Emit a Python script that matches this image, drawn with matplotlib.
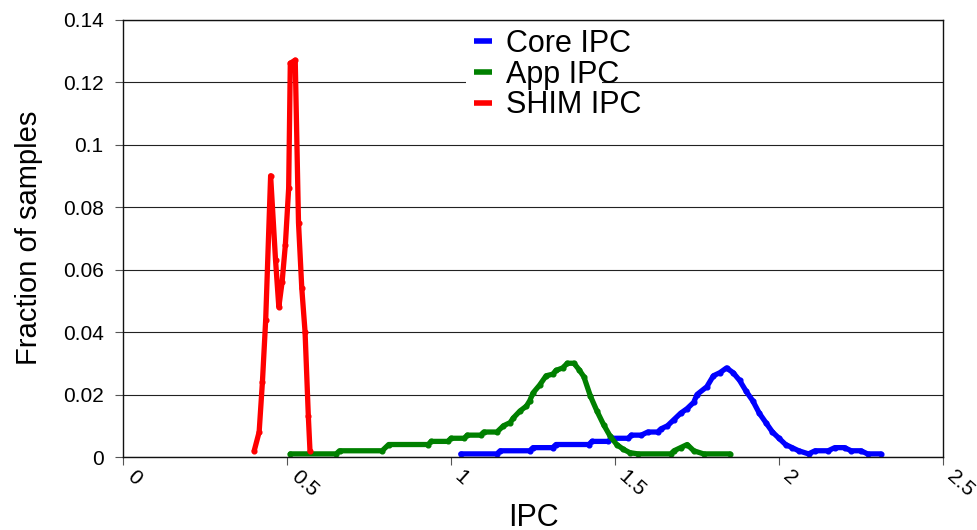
import matplotlib
matplotlib.use("Agg")
import matplotlib.pyplot as plt
from matplotlib.patches import Rectangle

plt.rcParams['font.family'] = ['Liberation Sans', 'DejaVu Sans']

# IPC distributions (fraction of samples per IPC bin)
core_ipc = [1.03, 1.14, 1.15, 1.24, 1.25, 1.31, 1.32, 1.42, 1.43, 1.48, 1.49, 1.54,
            1.55, 1.58, 1.60, 1.63, 1.64, 1.66, 1.68, 1.70, 1.72, 1.74, 1.75, 1.78,
            1.80, 1.82, 1.84, 1.86, 1.88, 1.90, 1.92, 1.94, 1.96, 1.98, 2.00, 2.02,
            2.04, 2.06, 2.09, 2.11, 2.15, 2.17, 2.20, 2.22, 2.25, 2.27, 2.31]
core_frac = [0.001, 0.001, 0.002, 0.002, 0.003, 0.003, 0.004, 0.004, 0.005, 0.005,
             0.006, 0.006, 0.007, 0.007, 0.008, 0.008, 0.009, 0.010, 0.012, 0.014,
             0.0155, 0.0175, 0.020, 0.0225, 0.026, 0.027, 0.0285, 0.027, 0.0245,
             0.021, 0.018, 0.014, 0.011, 0.008, 0.006, 0.004, 0.003, 0.002, 0.001,
             0.002, 0.002, 0.003, 0.003, 0.002, 0.002, 0.001, 0.001]

app_ipc = [0.51, 0.65, 0.66, 0.79, 0.81, 0.93, 0.94, 0.99, 1.00, 1.04, 1.05, 1.09,
           1.10, 1.14, 1.16, 1.18, 1.19, 1.21, 1.23, 1.24, 1.25, 1.27, 1.29, 1.31,
           1.32, 1.34, 1.355, 1.375, 1.39, 1.405, 1.425, 1.445, 1.465, 1.485, 1.505,
           1.525, 1.545, 1.57, 1.67, 1.68, 1.70, 1.72, 1.74, 1.77, 1.85]
app_frac = [0.001, 0.001, 0.002, 0.002, 0.004, 0.004, 0.005, 0.005, 0.006, 0.006,
            0.007, 0.007, 0.008, 0.008, 0.010, 0.011, 0.0125, 0.0147, 0.0163, 0.018,
            0.0205, 0.023, 0.026, 0.0265, 0.0277, 0.0285, 0.030, 0.030, 0.028,
            0.0257, 0.0195, 0.0147, 0.0104, 0.0067, 0.004, 0.0025, 0.0014, 0.001,
            0.001, 0.002, 0.003, 0.004, 0.002, 0.001, 0.001]

shim_ipc = [0.40, 0.415, 0.425, 0.435, 0.45, 0.465, 0.475, 0.485, 0.495, 0.505,
            0.51, 0.525, 0.535, 0.545, 0.555, 0.565, 0.57]
shim_frac = [0.002, 0.008, 0.024, 0.044, 0.090, 0.063, 0.048, 0.056, 0.068, 0.086,
             0.126, 0.127, 0.075, 0.054, 0.040, 0.013, 0.002]

series_names = ["Core IPC", "App IPC", "SHIM IPC"]
series_colors = ["#0000ff", "#008000", "#ff0000"]

x_ticks = [0, 0.5, 1, 1.5, 2, 2.5]
x_tick_labels = ["0", "0.5", "1", "1.5", "2", "2.5"]
y_ticks = [0, 0.02, 0.04, 0.06, 0.08, 0.1, 0.12, 0.14]
y_tick_labels = ["0", "0.02", "0.04", "0.06", "0.08", "0.1", "0.12", "0.14"]

fig = plt.figure(figsize=(9.78, 5.30), dpi=100)
ax = fig.add_axes([0.1258, 0.1377, 0.8384, 0.8255])

ax.set_axisbelow(True)
ax.grid(axis='y', color='#222222', linewidth=0.8)

for xs, ys, name, col in zip([core_ipc, app_ipc, shim_ipc],
                             [core_frac, app_frac, shim_frac],
                             series_names, series_colors):
    ax.plot(xs, ys, color=col, linewidth=3.8, marker='o', markersize=3.4,
            label=name, solid_joinstyle='round', solid_capstyle='round')

ax.set_xlim(0, 2.5)
ax.set_ylim(0, 0.14)
ax.set_xticks(x_ticks)
ax.set_xticklabels(x_tick_labels, fontsize=15, rotation=-42,
                   ha='left', va='top')
ax.set_yticks(y_ticks)
ax.set_yticklabels(y_tick_labels, fontsize=15)
ax.tick_params(axis='both', direction='out', length=6, width=0.8,
               color='#555555')
ax.tick_params(axis='y', pad=8)
ax.tick_params(axis='x', pad=1)
for sp in ax.spines.values():
    sp.set_linewidth(1.0)
    sp.set_color('#111111')

ax.set_xlabel("IPC", fontsize=22, labelpad=2)
ax.set_ylabel("Fraction of samples", fontsize=21, labelpad=14)

# white backing behind the legend so gridlines stop there
ax.add_patch(Rectangle((0.418, 0.76), 0.166, 0.22, transform=ax.transAxes,
                       facecolor='white', edgecolor='none', zorder=1.5))

leg = ax.legend(loc='upper left', bbox_to_anchor=(0.428, 0.978), frameon=False,
                fontsize=22, handlelength=0.6, handletextpad=0.45,
                labelspacing=0.02, borderpad=0, borderaxespad=0)
for h in leg.legend_handles:
    h.set_marker('')
    h.set_linewidth(4)
    h.set_solid_capstyle('butt')
leg.set_zorder(5)

fig.savefig("out.png", dpi=100)
